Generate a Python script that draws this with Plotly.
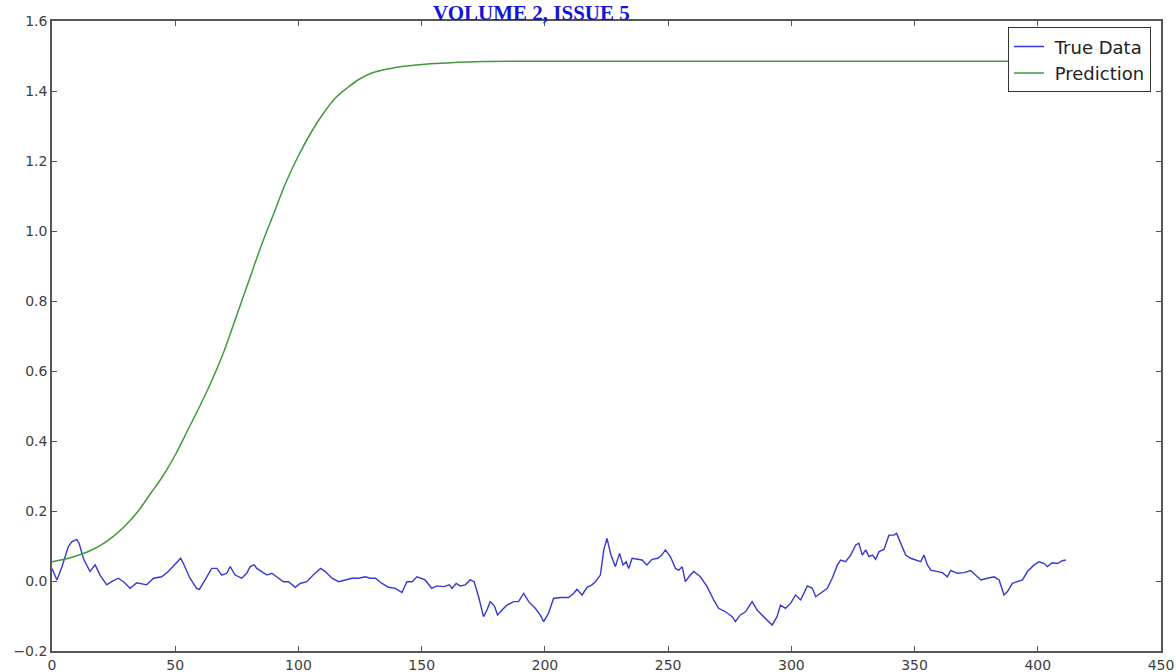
import plotly.graph_objects as go

# ---- data ----
pred_x = [0, 5, 10, 15, 20, 25, 30, 35, 40, 45, 50, 55, 60, 65, 70, 75, 80, 85, 90,
          95, 100, 105, 110, 115, 120, 125, 130, 140, 150, 160, 175, 200, 250, 300,
          350, 400, 411]
pred_y = [0.055, 0.062, 0.072, 0.085, 0.103, 0.128, 0.16, 0.2, 0.25, 0.30, 0.36,
          0.43, 0.50, 0.575, 0.66, 0.76, 0.86, 0.96, 1.05, 1.14, 1.215, 1.28, 1.335,
          1.38, 1.41, 1.435, 1.452, 1.468, 1.476, 1.48, 1.484, 1.485, 1.485, 1.485,
          1.485, 1.485, 1.485]

true_x = [0, 2, 4, 6.6, 8, 10, 11, 12.7, 15.4, 17.5, 19.5, 22.2, 24.2, 26.9, 29,
          31.7, 34.4, 36.4, 38.4, 41.2, 44.5, 47.2, 49.9, 52.2, 53.3, 56, 58.7,
          59.8, 62.1, 64.8, 66.9, 68.9, 70.9, 72.3, 74.3, 77, 79, 80.4, 82, 83.1,
          85.1, 87.2, 89.2, 91.9, 93.9, 96, 98.7, 100.7, 103.4, 106, 109, 110.9,
          113.6, 116.3, 119, 121.7, 124.4, 127.1, 129.1, 131.2, 133.9, 136.6,
          139.3, 142, 144, 146.1, 148.1,
          151.4, 154.1, 156.2, 158.9, 161.3, 162.3, 164, 165.6, 167.7, 169.7,
          171.3, 173.1, 175.1, 176.5, 177.8, 179.5, 180.8, 182.6, 184.6, 187.3,
          189.3, 191.4, 193.4, 196.1, 198.1, 199.5, 201.5, 203.5, 206.3, 209.6,
          211.7, 213, 215.1, 217.1, 219.1, 220.5, 222.5, 223.9, 225.2, 226.8,
          228.6, 230.3, 231.7, 233, 234, 235.4, 237.4, 239.4, 241.4, 243.5, 245.8,
          247.5, 248.9, 250.9, 253, 254.3, 255.7, 257, 259, 260.4, 263.1, 265.8,
          268.5, 270.5, 273.3, 276, 277.3, 279.3, 281.4, 284.1, 286.1, 288.8,
          292.2, 294.2, 295.6, 297.6, 299.7,
          301.7, 303.8, 306.5, 308.5, 309.9, 311.9, 314.6, 316.6, 318.7, 320, 322,
          324.1, 326.1, 327.4, 328.8, 330.2, 331.5, 332.9, 334.2, 335.6, 337.6,
          339.6, 341.7, 342.7, 344.4, 346.4, 348.4, 350.5, 352.5, 353.8, 355.2,
          356.6, 359.3, 361.3, 363.3, 364.7, 367.4, 370.1, 372.8, 374.8, 376.9,
          379.6, 382.3, 384.3, 386.3, 387.7, 389.7, 391.7, 393.8, 395.8, 398.5,
          400.5, 402.6, 403.9, 405.9, 408, 410, 411.4]
true_y = [0.036, 0.003, 0.04, 0.098, 0.112, 0.119, 0.108, 0.065, 0.027, 0.046,
          0.017, -0.011, -0.002, 0.008, -0.002, -0.021, -0.005, -0.007, -0.011,
          0.008, 0.012, 0.027, 0.046, 0.065, 0.05, 0.008, -0.021, -0.024, 0.003,
          0.036, 0.036, 0.017, 0.022, 0.041, 0.017, 0.008, 0.022, 0.041, 0.046,
          0.036, 0.027, 0.017, 0.022, 0.008, -0.002, -0.002, -0.018, -0.007,
          -0.002, 0.017, 0.036, 0.027, 0.008, -0.002, 0.003, 0.008, 0.008, 0.012,
          0.008, 0.008, -0.007, -0.018, -0.021, -0.033, -0.002, -0.002, 0.012,
          0.003, -0.021, -0.014, -0.016, -0.011, -0.021, -0.007, -0.014, -0.011,
          0.003, -0.002, -0.045, -0.102, -0.083, -0.059, -0.071, -0.097, -0.083,
          -0.069, -0.059, -0.059, -0.035, -0.059, -0.078, -0.097, -0.116, -0.092,
          -0.05, -0.047, -0.047, -0.035, -0.024, -0.04, -0.018, -0.011, -0.002,
          0.017, 0.089, 0.122, 0.074, 0.041, 0.079, 0.046, 0.055, 0.036, 0.065,
          0.062, 0.06, 0.046, 0.062, 0.065, 0.074, 0.089, 0.07, 0.036, 0.031, 0.041,
          -0.002, 0.017, 0.027, 0.012, -0.016, -0.054, -0.078, -0.088, -0.102,
          -0.116, -0.097, -0.088, -0.059, -0.083, -0.102, -0.126, -0.102, -0.069,
          -0.078, -0.064,
          -0.04, -0.054, -0.014, -0.021, -0.045, -0.035, -0.021, 0.008, 0.046, 0.06,
          0.055, 0.074, 0.103, 0.108, 0.074, 0.089, 0.07, 0.074, 0.062, 0.084, 0.09,
          0.131, 0.131, 0.136, 0.108, 0.074, 0.065, 0.06, 0.055, 0.074, 0.046,
          0.031, 0.027, 0.024, 0.012, 0.03, 0.022, 0.024, 0.03, 0.017, 0.003, 0.008,
          0.012, 0.003, -0.04, -0.03, -0.007, -0.002, 0.003, 0.027, 0.046, 0.055,
          0.05, 0.041, 0.052, 0.05, 0.058, 0.06]

x_ticks = [0, 50, 100, 150, 200, 250, 300, 350, 400, 450]
y_ticks = [-0.2, 0.0, 0.2, 0.4, 0.6, 0.8, 1.0, 1.2, 1.4, 1.6]
y_tick_text = ["\u22120.2", "0.0", "0.2", "0.4", "0.6", "0.8", "1.0", "1.2", "1.4", "1.6"]
title_text = "<b>VOLUME 2, ISSUE 5</b>"

fig = go.Figure()
fig.add_trace(go.Scatter(x=true_x, y=true_y, mode="lines", name=" True Data",
                         line=dict(color="#3838d0", width=1.4)))
fig.add_trace(go.Scatter(x=pred_x, y=pred_y, mode="lines", name=" Prediction",
                         line=dict(color="#3f9a3f", width=1.5, shape="spline")))

axis_common = dict(showgrid=False, zeroline=False, showline=True, mirror="ticks",
                   linecolor="#555555", linewidth=1.6, ticks="inside", ticklen=5,
                   tickcolor="#555555", automargin=False,
                   tickfont=dict(family="DejaVu Sans", size=14, color="#404040"))

fig.update_xaxes(range=[0, 450], tickvals=x_ticks, ticktext=[str(v) for v in x_ticks],
                 **axis_common)
fig.update_yaxes(range=[-0.2, 1.6], tickvals=y_ticks, ticktext=y_tick_text, **axis_common)

fig.add_annotation(text=title_text, xref="paper", yref="paper", x=(531 - 52) / 1109,
                   y=1.0, xanchor="center", yanchor="bottom", yshift=-6,
                   showarrow=False,
                   font=dict(family="Liberation Serif", size=21, color="#1515d8"))

fig.update_layout(
    width=1176, height=672,
    margin=dict(l=52, r=15, t=21, b=21, pad=0),
    paper_bgcolor="white", plot_bgcolor="white",
    showlegend=True,
    legend=dict(x=0.991, y=0.99, xanchor="right", yanchor="top",
                bgcolor="white", bordercolor="#333333", borderwidth=1,
                font=dict(family="DejaVu Sans", size=18, color="#222222"),
                itemwidth=30),
)

fig.write_html("out.html")
